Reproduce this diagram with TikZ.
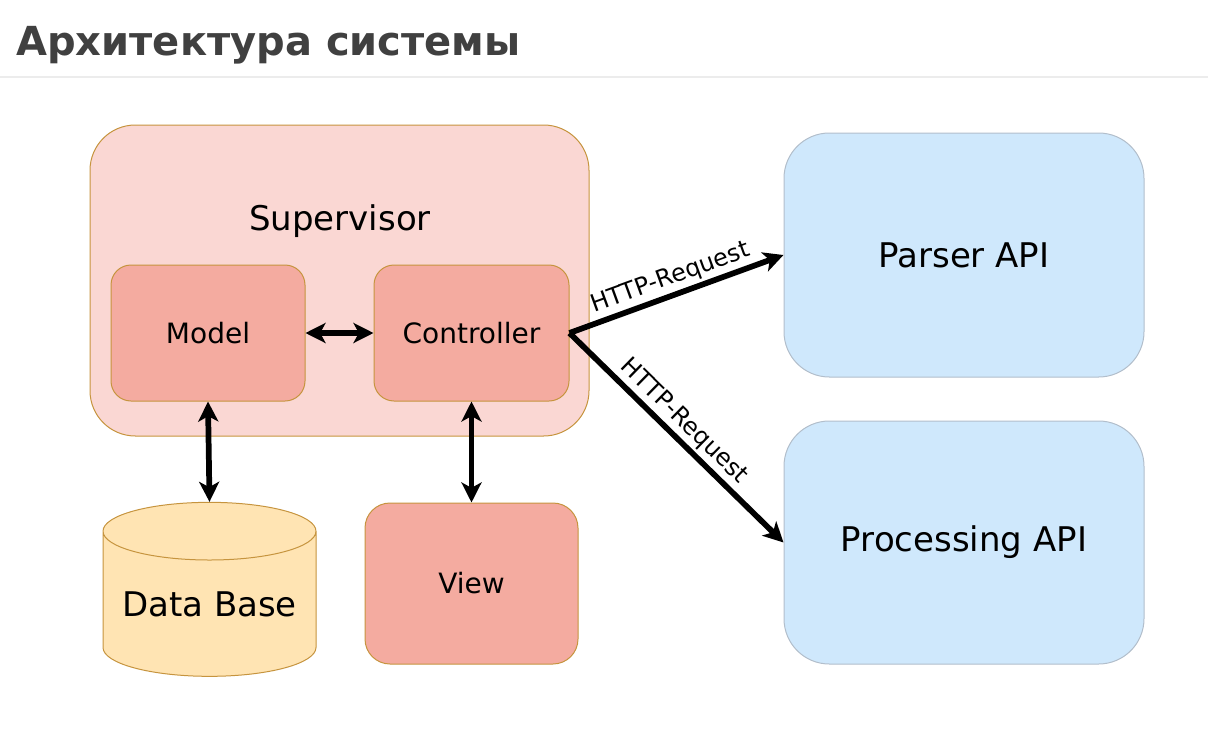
\documentclass[tikz,border=0pt]{standalone}
\usepackage{fontspec}
\setmainfont{DejaVu Sans}
\usetikzlibrary{arrows.meta, positioning, shapes.geometric}
\definecolor{supfill}{RGB}{250, 215, 211}
\definecolor{supdraw}{RGB}{198, 148, 62}
\definecolor{boxfill}{RGB}{244, 171, 160}
\definecolor{dbfill}{RGB}{255, 228, 179}
\definecolor{apifill}{RGB}{207, 232, 252}
\definecolor{apidraw}{RGB}{178, 190, 203}
\definecolor{titlegray}{RGB}{64, 64, 64}
\definecolor{rulegray}{RGB}{236, 236, 236}
\tikzset{
  % Rounded block, #1 = corner radius.
  block/.style={
    rectangle, rounded corners=#1,
    line width=0.75pt,
    inner sep=0pt,
    align=center,
  },
  sup-block/.style ={block=34pt, draw=supdraw, fill=supfill},
  part-block/.style={block=15pt, draw=supdraw, fill=boxfill,
    font=\fontsize{21pt}{25pt}\selectfont},
  api-block/.style ={block=34pt, draw=apidraw, fill=apifill,
    font=\fontsize{25.5pt}{30pt}\selectfont},
  big-text/.style={font=\fontsize{25.5pt}{30pt}\selectfont},
  % Arrows.
  link/.style={
    line width=4.3pt, draw=black,
    -{Stealth[length=15pt, width=15pt, inset=4pt]},
  },
  biglink/.style={
    link,
    {Stealth[length=15pt, width=15pt, inset=4pt]}-{Stealth[length=15pt, width=15pt, inset=4pt]},
  },
  req-label/.style={font=\fontsize{18pt}{22pt}\selectfont, sloped, above,
    inner sep=2pt},
}

\begin{document}
\begin{tikzpicture}[x=0.75pt, y=-0.75pt]
  \useasboundingbox (0,0) rectangle (1208,732);

  % Heading and rule.
  \node[anchor=base west, inner sep=0pt, text=titlegray,
    font=\fontsize{30pt}{35pt}\selectfont\bfseries] (title) at (16,55)
    {Архитектура системы};
  \draw[rulegray, line width=1pt] (0,77) -- (1208,77);

  % Supervisor with its parts.
  \node[sup-block, minimum width=374.25pt, minimum height=233.25pt] (sup)
    at (339.5,280.5) {};
  \node[big-text] (suptext) at (340,221) {Supervisor};
  \node[part-block, minimum width=145.5pt, minimum height=102pt] (model)
    at (208,333) {Model};
  \node[part-block, minimum width=146.25pt, minimum height=102pt] (ctrl)
    at (471.5,333) {Controller};

  % Storage and view.
  \node[cylinder, shape border rotate=90, aspect=0.33, draw=supdraw,
    fill=dbfill, line width=0.75pt, big-text, inner sep=0pt,
    minimum width=159.75pt, minimum height=130.5pt] (db)
    at (209.5,604) {Data Base};
  \node[part-block, block=18.75pt, minimum width=159.75pt,
    minimum height=120.75pt] (view) at (471.5,583.5) {View};

  % External services.
  \node[api-block, minimum width=270pt, minimum height=183pt] (parser)
    at (964,255) {Parser API};
  \node[api-block, minimum width=270pt, minimum height=182.25pt] (proc)
    at (964,542.5) {Processing API};

  % Internal links.
  \draw[biglink] (model) -- (ctrl);
  \draw[biglink] (model.south) -- (db.top);
  \draw[biglink] (ctrl.south) -- (view.north);

  % Requests to the services.
  \draw[link] (ctrl.east) -- node[req-label, pos=0.5] {HTTP-Request} (parser.west);
  \draw[link] (ctrl.east) -- node[req-label, pos=0.48] {HTTP-Request} (proc.west);

\end{tikzpicture}
\end{document}
